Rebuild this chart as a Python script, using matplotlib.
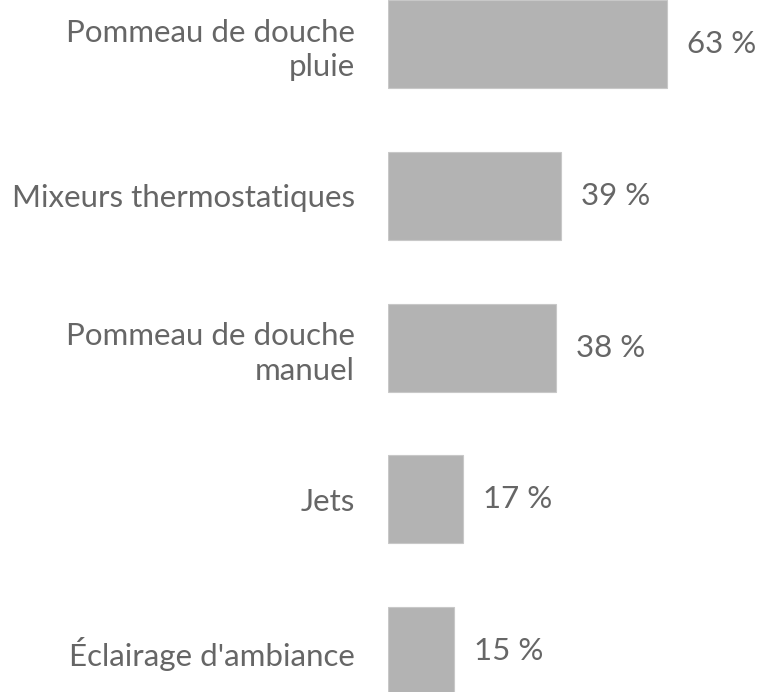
import matplotlib.pyplot as plt

# data
categories = ["Pommeau de douche\npluie", "Mixeurs thermostatiques",
              "Pommeau de douche\nmanuel", "Jets", "Éclairage d'ambiance"]
values = [63, 39, 38, 17, 15]

plt.rcParams['font.family'] = ['Lato', 'DejaVu Sans']

fig = plt.figure(figsize=(7.69, 6.92), dpi=100)
ax = fig.add_axes([388 / 769, 0, 1 - 388 / 769, 1])

ypos = list(range(len(values)))
ax.barh(ypos, values, height=0.58, color="#b3b3b3", edgecolor="#c8c8c8", linewidth=0.8)

ax.set_xlim(0, (769 - 388) / 4.43)
ax.set_ylim(4.27, -0.29)

ax.set_yticks(ypos)
ax.set_yticklabels(categories, fontsize=22.5, color="#666666",
                   linespacing=1.3, ha="right")
ax.tick_params(axis="y", length=0, pad=24)
ax.set_xticks([])
for s in ax.spines.values():
    s.set_visible(False)

# value labels at end of bars
for y, v in zip(ypos, values):
    ax.text(v + 20 / 4.43, y, f"{v} %", va="center", ha="left",
            fontsize=22.5, color="#666666")

fig.savefig("out.png", dpi=100)
